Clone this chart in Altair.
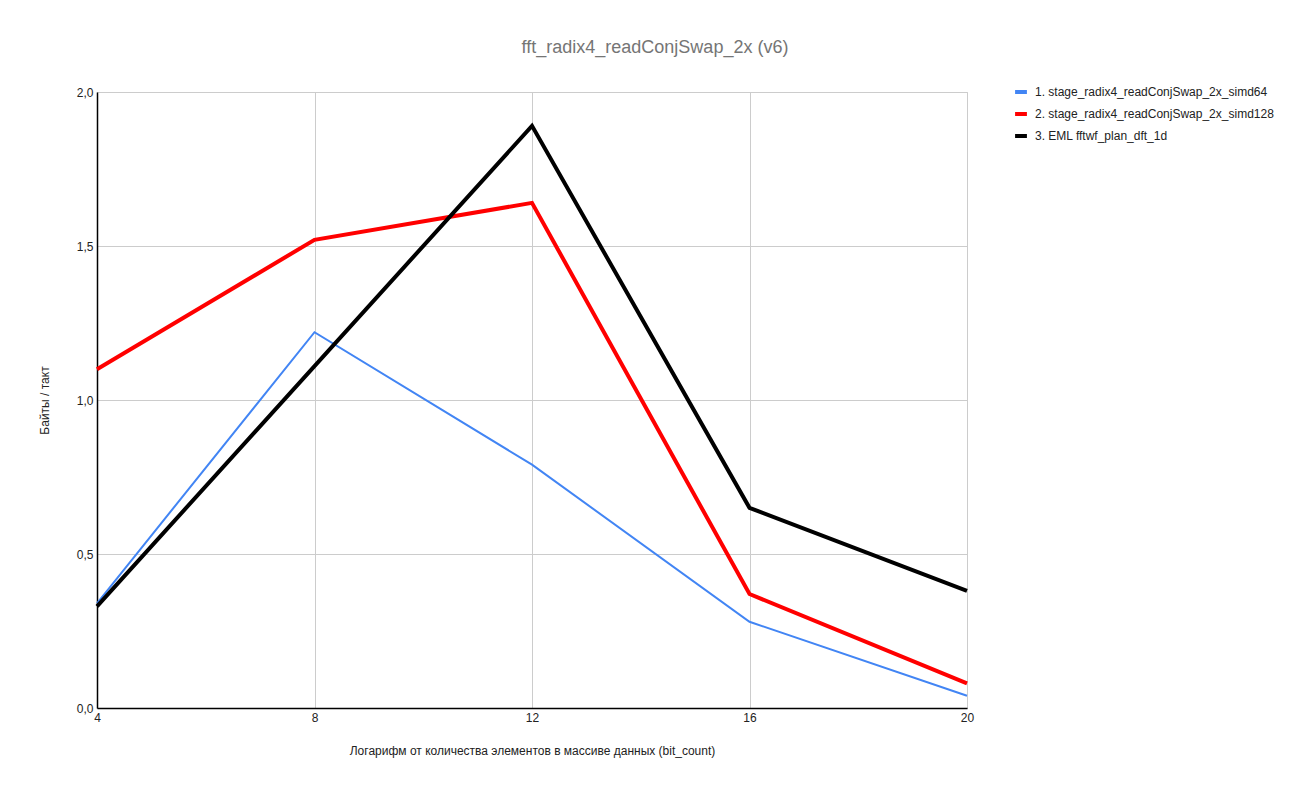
import altair as alt
import pandas as pd

# bit_count values (log2 of array size)
bit_count = [4, 8, 12, 16, 20]

series_names = [
    "1. stage_radix4_readConjSwap_2x_simd64",
    "2. stage_radix4_readConjSwap_2x_simd128",
    "3. EML fftwf_plan_dft_1d",
]
simd64 = [0.34, 1.22, 0.79, 0.28, 0.04]
simd128 = [1.10, 1.52, 1.64, 0.37, 0.08]
eml = [0.33, 1.11, 1.89, 0.65, 0.38]

series_colors = ["#4285F4", "#FF0000", "#000000"]

rows = []
for name, vals in zip(series_names, [simd64, simd128, eml]):
    for b, v in zip(bit_count, vals):
        rows.append({"series": name, "bits": b, "value": v})
df = pd.DataFrame(rows)

font = "Liberation Sans"

base = alt.Chart(df).encode(
    x=alt.X(
        "bits:Q",
        scale=alt.Scale(domain=[4, 20], nice=False, zero=False),
        axis=alt.Axis(
            values=bit_count,
            title="Логарифм от количества элементов в массиве данных (bit_count)",
            titlePadding=22,
            labelFlush=False,
        ),
    ),
    y=alt.Y(
        "value:Q",
        scale=alt.Scale(domain=[0, 2], nice=False),
        axis=alt.Axis(
            values=[0, 0.5, 1.0, 1.5, 2.0],
            labelExpr="replace(format(datum.value, '.1f'), '.', ',')",
            title="Байты / такт",
            titlePadding=25,
            labelFlush=False,
        ),
    ),
    color=alt.Color(
        "series:N",
        scale=alt.Scale(domain=series_names, range=series_colors),
        legend=alt.Legend(
            title=None,
            orient="none",
            legendX=916,
            legendY=-8,
            symbolType="stroke",
            symbolStrokeWidth=4,
            symbolSize=140,
            labelFontSize=12,
            labelColor="#222222",
            labelFont=font,
            rowPadding=6,
            labelOffset=6,
            labelLimit=400,
        ),
    ),
)

# thin simd64 line, thick simd128 and EML lines drawn on top
thin = base.mark_line(strokeWidth=2, strokeJoin="miter").transform_filter(
    alt.datum.series == series_names[0]
)
thick = base.mark_line(strokeWidth=4, strokeJoin="miter").transform_filter(
    alt.datum.series != series_names[0]
)

chart = (
    alt.layer(thin, thick)
    .properties(
        width=870,
        height=616,
        title=alt.Title(
            "fft_radix4_readConjSwap_2x (v6)",
            fontSize=18,
            fontWeight="normal",
            color="#757575",
            font=font,
            dx=123,
            offset=27,
        ),
        padding={"left": 97, "top": 92, "right": 333, "bottom": 87},
        autosize=alt.AutoSizeParams(type="none"),
        background="white",
    )
    .configure_view(stroke="#cccccc", strokeWidth=1)
    .configure_axis(
        labelFont=font,
        titleFont=font,
        labelFontSize=12,
        titleFontSize=12,
        titleFontWeight="normal",
        labelColor="#222222",
        titleColor="#222222",
        gridColor="#cccccc",
        domainColor="#000000",
        domainWidth=1.5,
        ticks=False,
        labelPadding=4,
    )
)

chart.save("out.html", embed_options={"renderer": "svg", "actions": False})
